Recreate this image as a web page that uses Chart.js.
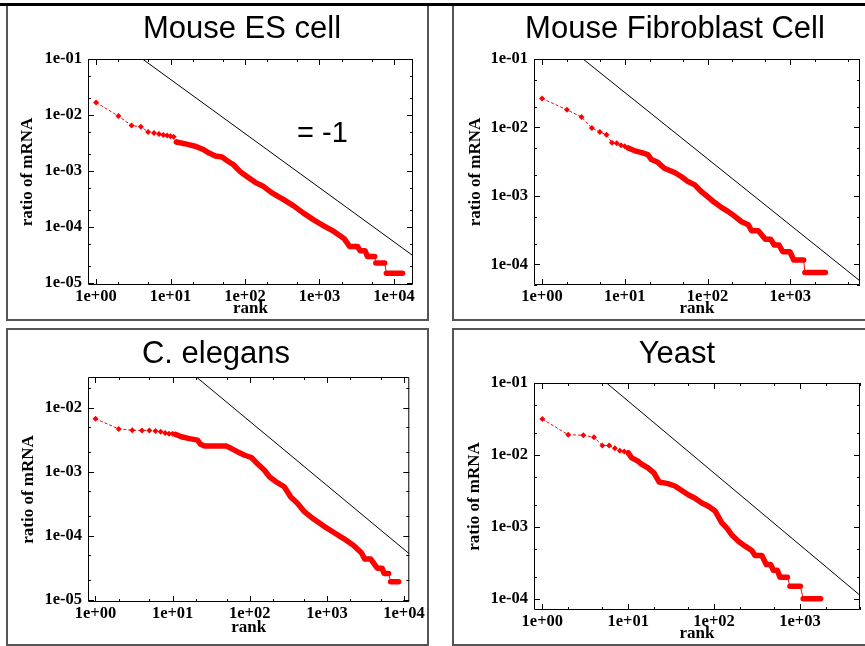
<!DOCTYPE html>
<html>
<head>
<meta charset="utf-8">
<title>mRNA rank plots</title>
<script src="https://cdn.jsdelivr.net/npm/chart.js@4.4.0/dist/chart.umd.min.js"></script>
<style>
  body { margin: 0; width: 865px; height: 646px; overflow: hidden; background: #fff; position: relative;
         font-family: "Liberation Sans", Arial, sans-serif; }
  .topline { position: absolute; left: 0; top: 3px; width: 865px; height: 3px; background: #000; }
  .box { position: absolute; box-sizing: border-box; border: 2px solid #555; }
  .title { position: absolute; width: 400px; font-size: 31px; line-height: 36px; text-align: center;
           white-space: nowrap; color: #000; }
  .note { position: absolute; font-size: 29px; line-height: 34px; white-space: nowrap; color: #000; }
  canvas { position: absolute; }
</style>
</head>
<body>
<div class="box" style="left:6px; top:3px; width:423px; height:318px;"></div>
<div class="box" style="left:452px; top:3px; width:420px; height:318px;"></div>
<div class="box" style="left:6px; top:328px; width:423px; height:318px;"></div>
<div class="box" style="left:452px; top:328px; width:420px; height:318px;"></div>
<div class="topline"></div>

<canvas id="c1" width="419" height="313" style="left:8px; top:6px;"></canvas>
<canvas id="c2" width="411" height="313" style="left:454px; top:6px;"></canvas>
<canvas id="c3" width="419" height="314" style="left:8px; top:330px;"></canvas>
<canvas id="c4" width="411" height="314" style="left:454px; top:330px;"></canvas>

<div class="title" style="left:42px; top:10px;">Mouse ES cell</div>
<div class="title" style="left:475px; top:10px;">Mouse Fibroblast Cell</div>
<div class="title" style="left:16px; top:335px;">C. elegans</div>
<div class="title" style="left:477px; top:335px;">Yeast</div>
<div class="note" style="left:297px; top:115px;">= -1</div>

<script>
// Mouse ES cell
const esHeadRank = [1, 2, 3, 4, 5, 6, 7, 8, 9, 10, 11, 12];
const esHeadRatio = [0.0168, 0.0096, 0.0065, 0.0062, 0.0050, 0.0048, 0.0046, 0.0044, 0.0043, 0.0042, 0.0041, 0.0033];
const esTailRank = [12, 17, 22, 28, 33, 40, 49, 57, 70, 86, 106, 137, 178, 230, 330, 450, 610, 835, 1140, 1560, 2130,
  2550, 3250, 3500, 4100, 4400, 5500, 5700, 7500, 7900, 13000];
const esTailRatio = [0.0033, 0.0030, 0.00275, 0.0024, 0.0021, 0.00186, 0.00178, 0.00155, 0.0013, 0.00098, 0.0008,
  0.00063, 0.00053, 0.00041, 0.00031, 0.00024, 0.000178, 0.000135, 0.000106, 8.4e-5, 6.3e-5,
  4.5e-5, 4.5e-5, 3.8e-5, 3.8e-5, 3.0e-5, 3.0e-5, 2.3e-5, 2.3e-5, 1.5e-5, 1.5e-5];
const esSlopeRank = [4.2, 18000];
const esSlopeRatio = [0.1, 3.1e-5];

// Mouse fibroblast
const fbHeadRank = [1, 2, 3, 4, 5, 6, 7, 8, 9, 10, 11];
const fbHeadRatio = [0.0265, 0.0181, 0.0142, 0.0098, 0.0086, 0.0078, 0.0060, 0.0059, 0.0055, 0.0053, 0.0050];
const fbTailRank = [11, 13, 16, 19, 21, 25, 30, 40, 48, 58, 70, 84, 100, 122, 147, 178, 215, 258, 310,
  340, 410, 500, 580, 640, 730, 810, 990, 1100, 1450, 1500, 2650];
const fbTailRatio = [0.0050, 0.0046, 0.0043, 0.0040, 0.0034, 0.0031, 0.00254, 0.0022, 0.00192, 0.00162, 0.00145,
  0.00116, 0.00098, 0.0008, 0.00068, 0.00059, 0.0005, 0.00042, 0.00038,
  0.00031, 0.00031, 0.000232, 0.000232, 0.000192, 0.000192, 0.000153, 0.000153, 0.000116, 0.000116, 7.6e-5, 7.6e-5];
const fbSlopeRank = [3.13, 6930];
const fbSlopeRatio = [0.1, 5.75e-5];

// C. elegans
const ceHeadRank = [1, 2, 3, 4, 5, 6, 7, 8, 9, 10, 11];
const ceHeadRatio = [0.0067, 0.00464, 0.00442, 0.0044, 0.0044, 0.0043, 0.0042, 0.0040, 0.0039, 0.0039, 0.0038];
const ceTailRank = [11, 13, 16, 21, 23, 26, 36, 50, 58, 70, 86, 105, 128, 155, 180, 220, 280, 340, 415, 505, 680,
  910, 1230, 1650, 2200, 2800, 3100, 3700, 4500, 5200, 5500, 6300, 6700, 8500];
const ceTailRatio = [0.0038, 0.0035, 0.0033, 0.0031, 0.00267, 0.0025, 0.0025, 0.0025, 0.00229, 0.00203, 0.0018,
  0.00166, 0.0013, 0.00105, 0.00083, 0.00069, 0.00058, 0.0004, 0.00032, 0.00024, 0.00018,
  0.000141, 0.000112, 9.0e-5, 7.1e-5, 5.4e-5, 4.3e-5, 4.3e-5, 3.1e-5, 3.1e-5, 2.57e-5, 2.57e-5, 1.9e-5, 1.9e-5];
const ceSlopeRank = [20.3, 11600];
const ceSlopeRatio = [0.030, 5.25e-5];

// Yeast
const ytHeadRank = [1, 2, 3, 4, 5, 6, 7, 8, 9, 10];
const ytHeadRatio = [0.0316, 0.0191, 0.0188, 0.0176, 0.0135, 0.0135, 0.0124, 0.0114, 0.0112, 0.0107];
const ytTailRank = [10, 11, 13, 14, 17, 20, 23, 29, 35, 42, 50, 60, 72, 86, 103, 112, 123, 140, 160, 192, 230, 275,
  300, 360, 405, 455, 490, 545, 585, 715, 765, 1010, 1090, 1740];
const ytTailRatio = [0.0107, 0.0091, 0.0082, 0.0076, 0.0066, 0.0056, 0.0042, 0.0040, 0.0037, 0.0032, 0.0028, 0.0025,
  0.00215, 0.00194, 0.00166, 0.00139, 0.00114, 0.00097, 0.00078, 0.00063, 0.00054, 0.00047,
  0.0004, 0.0004, 0.0003, 0.0003, 0.00025, 0.00025, 0.0002, 0.0002, 0.00015, 0.00015, 0.0001, 0.0001];
const ytSlopeRank = [5.6, 5000];
const ytSlopeRatio = [0.1, 1.12e-4];

const xTitle = 'rank';
const yTitle = 'ratio of mRNA';

// panel geometry (page pixels) and axis ranges
const PANELS = [
  { id: 'c1', left: 8, top: 6, width: 419, height: 313, area: { l: 88, t: 59, r: 413, b: 285 },
    yTitleX: 28, xTitleY: 309, xMin: 0.78, xMax: 18000, yMin: 9.3e-6, yMax: 0.1,
    head: [esHeadRank, esHeadRatio], tail: [esTailRank, esTailRatio], slope: [esSlopeRank, esSlopeRatio] },
  { id: 'c2', left: 454, top: 6, width: 411, height: 313, area: { l: 534, t: 59, r: 860, b: 285 },
    yTitleX: 475.5, xTitleY: 309, xMin: 0.80, xMax: 6950, yMin: 5.0e-5, yMax: 0.1,
    head: [fbHeadRank, fbHeadRatio], tail: [fbTailRank, fbTailRatio], slope: [fbSlopeRank, fbSlopeRatio] },
  { id: 'c3', left: 8, top: 330, width: 419, height: 314, area: { l: 88, t: 377, r: 413, b: 602 },
    yTitleX: 28.3, xTitleY: 627.5, xMin: 0.80, xMax: 11700, yMin: 9.2e-6, yMax: 0.030,
    head: [ceHeadRank, ceHeadRatio], tail: [ceTailRank, ceTailRatio], slope: [ceSlopeRank, ceSlopeRatio] },
  { id: 'c4', left: 454, top: 330, width: 411, height: 314, area: { l: 534, t: 383, r: 860, b: 610 },
    yTitleX: 475, xTitleY: 634, xMin: 0.80, xMax: 5000, yMin: 7.1e-5, yMax: 0.1,
    head: [ytHeadRank, ytHeadRatio], tail: [ytTailRank, ytTailRatio], slope: [ytSlopeRank, ytSlopeRatio] }
];

const serif = '"Liberation Serif", "Times New Roman", serif';
const tickFont = { family: serif, size: 16.5, weight: 'bold' };
const axisFont = { family: serif, size: 17, weight: 'bold' };
const HALF_LINE = 17 * 1.2 / 2;

const isDecade = v => Math.abs(v / Math.pow(10, Math.round(Math.log10(v))) - 1) < 1e-6;

// decades plus 2x and 5x minor ticks
function logTicks(min, max) {
  const out = [];
  for (let e = Math.floor(Math.log10(min)); e <= Math.ceil(Math.log10(max)); e++) {
    [1, 2, 5].forEach(m => {
      const v = m * Math.pow(10, e);
      if (v >= min * 0.999 && v <= max * 1.001) out.push({ value: v });
    });
  }
  return out;
}

function expLabel(value) {
  if (!isDecade(value)) return '';
  const e = Math.round(Math.log10(value));
  const digits = String(Math.abs(e)).padStart(2, '0');
  return '1e' + (e < 0 ? '-' : '+') + digits;
}

const toPoints = (xs, ys) => xs.map((x, i) => ({ x: x, y: ys[i] }));

// box round the plot area, ticks pointing inwards on all four sides
const frameTicks = {
  id: 'frameTicks',
  beforeDatasetsDraw(chart) {
    const { ctx, chartArea: a, scales: { x, y } } = chart;
    ctx.save();
    ctx.strokeStyle = '#000';
    ctx.lineWidth = 1;
    ctx.beginPath();
    ctx.rect(a.left + 0.5, a.top + 0.5, a.right - a.left - 1, a.bottom - a.top - 1);
    x.ticks.forEach(t => {
      const px = Math.round(x.getPixelForValue(t.value)) + 0.5;
      const len = isDecade(t.value) ? 6 : 3;
      ctx.moveTo(px, a.bottom); ctx.lineTo(px, a.bottom - len);
      ctx.moveTo(px, a.top); ctx.lineTo(px, a.top + len);
    });
    y.ticks.forEach(t => {
      const py = Math.round(y.getPixelForValue(t.value)) + 0.5;
      const len = isDecade(t.value) ? 6 : 3;
      ctx.moveTo(a.left, py); ctx.lineTo(a.left + len, py);
      ctx.moveTo(a.right, py); ctx.lineTo(a.right - len, py);
    });
    ctx.stroke();
    ctx.restore();
  }
};

// thin connector where the band drops straight down between two steps
const steep = c => Math.abs(c.p1.y - c.p0.y) > 2 * Math.abs(c.p1.x - c.p0.x) + 2;

function makeChart(p) {
  const xH = p.xTitleY + HALF_LINE - p.area.b;
  const padL = p.yTitleX - p.left - HALF_LINE;
  const yW = p.area.l - p.left - padL;

  const axis = (min, max, title, tickPad, fit) => ({
    type: 'logarithmic',
    min: min,
    max: max,
    afterBuildTicks: s => { s.ticks = logTicks(s.min, s.max); },
    afterFit: fit,
    grid: { display: false, drawTicks: false },
    border: { display: false },
    ticks: { autoSkip: false, maxRotation: 0, padding: tickPad, color: '#000', font: tickFont, callback: expLabel },
    title: { display: true, text: title, color: '#000', font: axisFont, padding: 0 }
  });

  return new Chart(document.getElementById(p.id), {
    type: 'scatter',
    data: {
      datasets: [
        {
          data: toPoints(p.slope[0], p.slope[1]),
          showLine: true,
          borderColor: '#000',
          borderWidth: 1,
          pointRadius: 0
        },
        {
          data: toPoints(p.tail[0], p.tail[1]),
          showLine: true,
          borderColor: '#ff0000',
          borderWidth: 5.5,
          borderCapStyle: 'round',
          borderJoinStyle: 'round',
          pointRadius: 0,
          segment: { borderWidth: c => steep(c) ? 1 : 5.5 }
        },
        {
          data: toPoints(p.head[0], p.head[1]),
          showLine: true,
          borderColor: '#ff0000',
          borderWidth: 1,
          borderDash: [3, 2],
          pointStyle: 'rectRot',
          pointRadius: 3,
          pointBackgroundColor: '#ff0000',
          pointBorderColor: '#ff0000',
          pointBorderWidth: 0
        }
      ]
    },
    options: {
      responsive: false,
      animation: false,
      events: [],
      layout: {
        padding: {
          left: padL,
          top: p.area.t - p.top,
          right: p.left + p.width - p.area.r,
          bottom: p.top + p.height - p.area.b - xH
        }
      },
      scales: {
        x: axis(p.xMin, p.xMax, xTitle, 2, s => { s.height = xH; }),
        y: axis(p.yMin, p.yMax, yTitle, 6, s => { s.width = yW; })
      },
      plugins: { legend: { display: false }, tooltip: { enabled: false } }
    },
    plugins: [frameTicks]
  });
}

PANELS.forEach(makeChart);
</script>
</body>
</html>
